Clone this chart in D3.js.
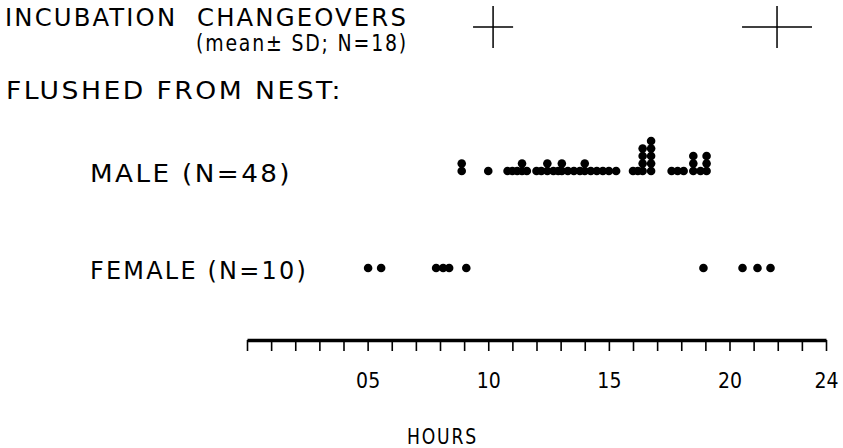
<!DOCTYPE html>
<html>
<head>
<meta charset="utf-8">
<script src="https://cdn.jsdelivr.net/npm/d3@7"></script>
<style>
  body { margin: 0; background: #fff; }
  text { font-family: "DejaVu Sans Condensed", "DejaVu Sans", sans-serif; fill: #000; }
</style>
</head>
<body>
<div id="plot"></div>
<script>
// Data (hours of the day)
const maleTimes = [8.9, 8.9, 10.0, 10.8, 11.0, 11.2, 11.4, 11.4, 11.6,
    12.0, 12.2, 12.45, 12.45, 12.7, 12.9, 13.05, 13.05, 13.3, 13.55, 13.8, 14.0, 14.0, 14.25, 14.5, 14.75, 15.0, 15.3,
    16.0, 16.2, 16.4, 16.4, 16.4, 16.4, 16.75, 16.75, 16.75, 16.75, 16.75,
    17.6, 17.85, 18.1, 18.5, 18.5, 18.5, 18.8, 19.05, 19.05, 19.05];
const femaleTimes = [5.02, 5.56, 7.84, 8.13, 8.38, 9.09, 18.92, 20.54, 21.16, 21.7];
// incubation changeovers: mean and SD
const changeoverMeans = [10.2, 21.97];
const changeoverSDs = [0.83, 1.45];
const hourTicks = d3.range(0, 25);
const hourLabels = {5: "05", 10: "10", 15: "15", 20: "20", 24: "24"};

const width = 843, height = 448;

const svg = d3.select("#plot")
    .append("svg")
    .attr("width", width)
    .attr("height", height);

svg.append("rect").attr("width", width).attr("height", height).attr("fill", "#fff");

const x = d3.scaleLinear().domain([0, 24]).range([247, 826]);

// Labels (textLength to match the lettering width)
const labels = [
    {t: "INCUBATION  CHANGEOVERS", x: 5, y: 26, w: 403, s: 25},
    {t: "(mean± SD; N=18)", x: 196, y: 51, w: 212, s: 23},
    {t: "FLUSHED FROM NEST:", x: 6, y: 99, w: 337, s: 24},
    {t: "MALE (N=48)", x: 90, y: 182, w: 202, s: 24},
    {t: "FEMALE (N=10)", x: 90, y: 279, w: 218, s: 24},
    {t: "HOURS", x: 407, y: 444, w: 71, s: 21}
];
svg.selectAll("text.lab")
    .data(labels)
    .join("text")
    .attr("class", "lab")
    .attr("x", d => d.x)
    .attr("y", d => d.y)
    .attr("font-size", d => d.s)
    .attr("textLength", d => d.w)
    .attr("lengthAdjust", "spacingAndGlyphs")
    .style("letter-spacing", "2px")
    .style("white-space", "pre")
    .text(d => d.t);

// Mean ± SD crosses
const crossY = 27;
changeoverMeans.forEach((m, i) => {
    svg.append("line")
        .attr("x1", x(m - changeoverSDs[i])).attr("x2", x(m + changeoverSDs[i]))
        .attr("y1", crossY).attr("y2", crossY)
        .attr("stroke", "#000").attr("stroke-width", 1.5);
    svg.append("line")
        .attr("x1", x(m)).attr("x2", x(m))
        .attr("y1", 6).attr("y2", 48)
        .attr("stroke", "#000").attr("stroke-width", 1.5);
});

// Stack identical times
function stacked(times, baseY) {
    const count = {};
    return times.map(t => {
        count[t] = (count[t] || 0) + 1;
        return {t, y: baseY - (count[t] - 1) * 7.5};
    });
}

svg.append("g").selectAll("circle")
    .data(stacked(maleTimes, 171))
    .join("circle")
    .attr("cx", d => x(d.t))
    .attr("cy", d => d.y)
    .attr("r", 4.3)
    .attr("fill", "#000");

svg.append("g").selectAll("circle")
    .data(stacked(femaleTimes, 268))
    .join("circle")
    .attr("cx", d => x(d.t))
    .attr("cy", d => d.y)
    .attr("r", 4.3)
    .attr("fill", "#000");

// Hours axis
const axis = svg.append("g")
    .attr("transform", "translate(0,340)")
    .call(d3.axisBottom(x)
        .tickValues(hourTicks)
        .tickSize(11)
        .tickSizeOuter(0)
        .tickPadding(22)
        .tickFormat(d => hourLabels[d] || ""));
axis.select(".domain").attr("stroke-width", 3.5);
axis.selectAll(".tick line").attr("stroke-width", 1.6);
axis.selectAll(".tick text")
    .attr("font-size", 21)
    .style("font-family", "'DejaVu Sans Condensed', 'DejaVu Sans', sans-serif");
</script>
</body>
</html>
